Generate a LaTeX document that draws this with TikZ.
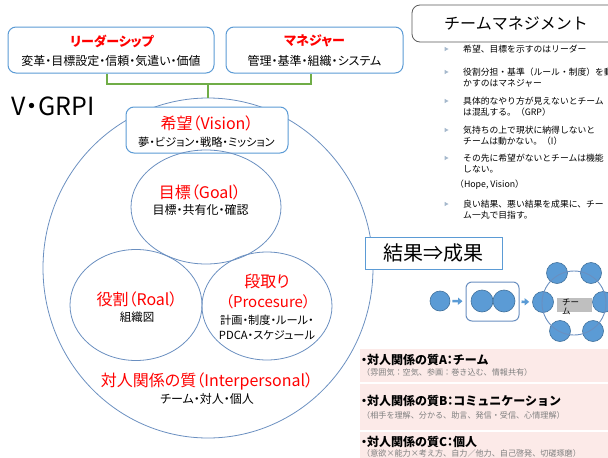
\documentclass[tikz,border=0pt]{standalone}
\usepackage{fontspec}
\setmainfont[RawFeature=+palt]{Noto Sans CJK JP}
\newfontfamily\fullw{Noto Sans CJK JP}
\usetikzlibrary{shapes.geometric,arrows.meta}
\definecolor{boxblue}{HTML}{5B9BD5}
\definecolor{ellblue}{HTML}{6A8FC0}
\definecolor{linkgreen}{HTML}{70AD47}
\definecolor{dotblue}{HTML}{5B9BD5}
\definecolor{dotedge}{HTML}{41719C}
\definecolor{panelpink}{RGB}{252,234,232}
\definecolor{subgray}{HTML}{7F7F7F}
\definecolor{bulletc}{HTML}{A5B8CC}
\definecolor{titleedge}{HTML}{595959}
\newcommand\fsz[1]{\fontsize{#1}{#1}\selectfont}
\begin{document}
\begin{tikzpicture}[x=1pt,y=-1pt,
  txt/.style={inner sep=0pt},
  redtxt/.style={inner sep=0pt,text=red},
  boxs/.style={draw=boxblue,line width=1pt,rounded corners=8pt,fill=white,inner sep=0pt},
  ell/.style={ellipse,draw=ellblue,line width=0.8pt,inner sep=0pt},
  conn/.style={draw=linkgreen,line width=1.6pt},
  dot/.style={circle,fill=dotblue,draw=dotedge,line width=0.6pt,inner sep=0pt,minimum size=21pt},
  blockarrow/.style={draw=dotblue,line width=2.6pt,-{Triangle[length=4.5pt,width=7pt]},shorten <=2pt,shorten >=3pt},
  bul/.style={fill=bulletc},
  rtxt/.style={inner sep=0pt,anchor=west,font=\fullw\fsz{8.8}},
  panel/.style={fill=panelpink,draw=none},
  qtitle/.style={inner sep=0pt,anchor=west,font=\fsz{12}\bfseries},
  qsub/.style={inner sep=0pt,anchor=west,font=\fullw\fsz{8.1},text=subgray}
]
\useasboundingbox (0,0) rectangle (608,458);

% ---- top boxes ----
\node[boxs,minimum width=206pt,minimum height=46pt] (lead) at (111,50) {};
\node[redtxt,font=\fsz{13}\bfseries] (leadt) at (112,41) {リーダーシップ};
\node[txt,font=\fsz{12}] (leads) at (111,61) {変革・目標設定・信頼・気遣い・価値};

\node[boxs,minimum width=177pt,minimum height=46pt] (mgr) at (314.5,50) {};
\node[redtxt,font=\fsz{13}\bfseries] (mgrt) at (314.5,41) {マネジャー};
\node[txt,font=\fsz{12}] (mgrs) at (314.5,61) {管理・基準・組織・システム};

% ---- big circle ----
\node[ell,minimum width=330pt,minimum height=340pt] (big) at (208,268) {};
\coordinate (j) at (208,84);
\draw[conn] ([xshift=-4pt]lead.south) |- (j) -| ([xshift=-3.5pt]mgr.south);
\draw[conn] (j) -- (big.north);

\node[txt,font=\fsz{25}] (vgrpi) at (53,106) {V・GRPI};

% vision box
\node[boxs,minimum width=162pt,minimum height=46pt] (vis) at (207,130) {};
\node[redtxt,font=\fsz{16}] (vist) at (207,123) {希望（Vision）};
\node[txt,font=\fsz{11.2}] (viss) at (206.5,142) {夢・ビジョン・戦略・ミッション};

% goal
\node[ell,minimum width=150pt,minimum height=114pt] (goal) at (206,207) {};
\node[redtxt,font=\fsz{16}] (goalt) at (200,192) {目標（Goal）};
\node[txt,font=\fsz{12}] (goals) at (200.5,210) {目標・共有化・確認};

% role
\node[ell,minimum width=132pt,minimum height=111pt] (role) at (136,305) {};
\node[redtxt,font=\fsz{16}] (rolet) at (137,299) {役割（Roal）};
\node[txt,font=\fsz{11.5}] (roles) at (137,317) {組織図};

% procedure
\node[ell,minimum width=130pt,minimum height=108pt] (proc) at (267,306) {};
\node[redtxt,font=\fsz{16}] (proct1) at (267,281) {段取り};
\node[redtxt,font=\fsz{15}] (proct2) at (268,302) {（Procesure）};
\node[txt,font=\fsz{11.2}] (procs1) at (267,320) {計画・制度・ルール・};
\node[txt,font=\fsz{11.2}] (procs2) at (267,335) {PDCA・スケジュール};

% interpersonal
\node[redtxt,font=\fsz{16}] (intt) at (207,381) {対人関係の質（Interpersonal）};
\node[txt,font=\fsz{12}] (ints) at (207,399) {チーム・対人・個人};

% ---- right: team management ----
\node[draw=titleedge,line width=0.8pt,rounded corners=8pt,fill=white,inner sep=0pt,
      minimum width=208pt,minimum height=37pt] (tm) at (516,23.5) {};
\node[txt,font=\fullw\fsz{16}] (tmt) at (516,23.5) {チームマネジメント};

\foreach \yy in {49,72,101,130,158,204}{
  \fill[bul] (444.5,\yy-2.2) -- (448.5,\yy) -- (444.5,\yy+2.2) -- cycle;
}
\node[rtxt] (b1) at (463,49) {希望、目標を示すのはリーダー};
\node[rtxt] (b2a) at (463,72) {役割分担・基準（ルール・制度）を動};
\node[rtxt] (b2b) at (463,83) {かすのはマネジャー};
\node[rtxt] (b3a) at (463,101) {具体的なやり方が見えないとチーム};
\node[rtxt] (b3b) at (463,112) {は混乱する。（GRP）};
\node[rtxt] (b4a) at (463,130) {気持ちの上で現状に納得しないと};
\node[rtxt] (b4b) at (463,141) {チームは動かない。（I）};
\node[rtxt] (b5a) at (463,158) {その先に希望がないとチームは機能};
\node[rtxt] (b5b) at (463,169) {しない。};
\node[rtxt] (b5c) at (455,185) {（Hope, Vision）};
\node[rtxt] (b6a) at (463,204) {良い結果、悪い結果を成果に、チー};
\node[rtxt] (b6b) at (463,215) {ム一丸で目指す。};

% result box
\node[draw=boxblue,line width=1pt,fill=white,inner sep=0pt,minimum width=137pt,minimum height=32pt,
      font=\fsz{20}] (res) at (433.5,253) {結果⇒成果};

% small diagram
\node[dot,minimum size=20pt] (c1) at (440,301) {};
\node[draw=ellblue,line width=1pt,rounded corners=6pt,inner sep=0pt,minimum width=53pt,minimum height=39pt] (grp) at (492.5,301.5) {};
\node[dot,minimum size=22pt] (c2) at (482,301) {};
\node[dot,minimum size=22pt] (c3) at (504,301) {};
\node[dot] (r1) at (543,302) {};
\node[dot] (r2) at (557,273) {};
\node[dot] (r3) at (591,273) {};
\node[dot] (r4) at (603,302) {};
\node[dot] (r5) at (560,331) {};
\node[dot] (r6) at (593,331) {};
\node[circle,draw=ellblue,line width=0.9pt,inner sep=0pt,minimum size=64pt] (ring) at (574,303) {};
\draw[blockarrow] (c1) -- (grp);
\draw[blockarrow] (grp) -- (r1);
\node[fill=black!25,inner sep=0pt,minimum width=35pt,minimum height=14pt] (lbl) at (574.5,305) {};
\node[txt,anchor=north west,align=left,font=\fullw\fsz{8.5}\linespread{1.05}\selectfont] (lblt) at (562,299) {チー\\ム};

% ---- bottom-right panel ----
\fill[panel] (360,349) rectangle (608,382);
\fill[panel] (360,384) rectangle (608,430);
\fill[panel] (360,432) rectangle (608,458);
\node[qtitle] (qa) at (361,360) {・対人関係の質A：{\fullw チーム}};
\node[qsub] (qas) at (362,372.5) {（雰囲気：空気、参画：巻き込む、情報共有）};
\node[qtitle] (qb) at (361,401) {・対人関係の質B：{\fullw コミュニケーション}};
\node[qsub] (qbs) at (362,415) {（相手を理解、分かる、助言、発信・受信、心情理解）};
\node[qtitle] (qc) at (361,442) {・対人関係の質C：個人};
\node[qsub] (qcs) at (362,453) {（意欲×能力×考え方、自力／他力、自己啓発、切磋琢磨）};
\end{tikzpicture}
\end{document}
